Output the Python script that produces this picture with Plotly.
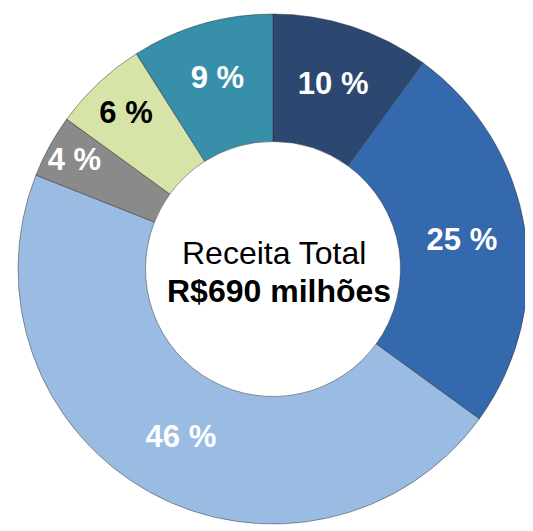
import plotly.graph_objects as go

categories = ["A", "B", "C", "D", "E", "F"]
values = [10, 25, 46, 4, 6, 9]
labels_text = ["10 %", "25 %", "46 %", "4 %", "6 %", "9 %"]
colors = ["#2C4770", "#3569AE", "#9BBCE2", "#8A8A8A", "#D7E4A8", "#378FA9"]
text_colors = ["white", "white", "white", "white", "black", "white"]
center_line1 = "Receita Total"
center_line2 = "R$690 milhões"

W, H = 533, 531
OFF = 8  # page body margin offset
fig = go.Figure()
fig.add_trace(go.Pie(
    labels=categories,
    values=values,
    text=["<b>" + t + "</b>" for t in labels_text],
    textinfo="text",
    textposition="inside",
    insidetextorientation="horizontal",
    textfont=dict(family="Liberation Sans, Arial", size=31, color=text_colors),
    marker=dict(colors=colors, line=dict(color="rgba(40,40,40,0.45)", width=1)),
    hole=0.5,
    sort=False,
    direction="clockwise",
    rotation=0,
    showlegend=False,
    hoverinfo="skip",
    domain=dict(x=[(18 - OFF) / W, (528 - OFF) / W],
                y=[(H - 524 + OFF) / H, (H - 14 + OFF) / H]),
))
fig.add_annotation(
    x=(274 - OFF) / W, y=1 - (253 - OFF) / H, xref="paper", yref="paper",
    text=center_line1, showarrow=False,
    font=dict(family="Liberation Sans, Arial", size=32, color="black"),
)
fig.add_annotation(
    x=(279 - OFF) / W, y=1 - (291 - OFF) / H, xref="paper", yref="paper",
    text="<b>" + center_line2 + "</b>", showarrow=False,
    font=dict(family="Liberation Sans, Arial", size=32, color="black"),
)
fig.update_layout(
    width=W, height=H,
    margin=dict(l=0, r=0, t=0, b=0),
    paper_bgcolor="white", plot_bgcolor="white",
    uniformtext=dict(minsize=31, mode="show"),
)
fig.write_html("out.html")
